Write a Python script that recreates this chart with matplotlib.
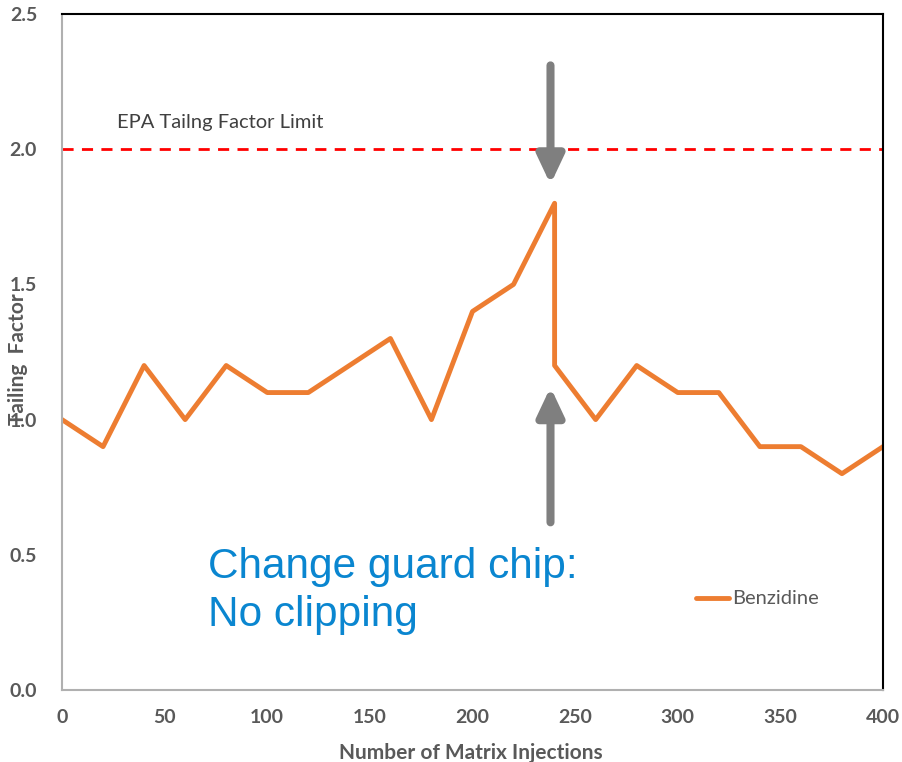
import matplotlib.pyplot as plt

# Datos
injections = [0, 20, 40, 60, 80, 100, 120, 140, 160, 180, 200, 220, 240, 240,
              260, 280, 300, 320, 340, 360, 380, 400]
tailing = [1.0, 0.9, 1.2, 1.0, 1.2, 1.1, 1.1, 1.2, 1.3, 1.0, 1.4, 1.5, 1.8, 1.2,
           1.0, 1.2, 1.1, 1.1, 0.9, 0.9, 0.8, 0.9]
epa_limit = 2.0
x_ticks = [0, 50, 100, 150, 200, 250, 300, 350, 400]
y_ticks = [0.0, 0.5, 1.0, 1.5, 2.0, 2.5]

gray = '#595959'
orange = '#ed7d31'

fig = plt.figure(figsize=(9.02, 7.62), dpi=100)
ax = fig.add_axes([62 / 902, 72 / 762, 821 / 902, 676 / 762])

ax.plot(injections, tailing, color=orange, lw=3.5, solid_joinstyle='round')
ax.axhline(epa_limit, color='#ff0000', lw=2, ls=(0, (4, 3)))

ax.set_xlim(0, 400)
ax.set_ylim(0, 2.5)
ax.set_xticks(x_ticks)
ax.set_yticks(y_ticks)
ax.set_yticklabels([f'{v:.1f}' for v in y_ticks])
ax.tick_params(axis='y', length=0, labelsize=14, labelcolor=gray, pad=18)
ax.tick_params(axis='x', length=0, labelsize=14, labelcolor=gray, pad=14)
for lbl in ax.get_xticklabels() + ax.get_yticklabels():
    lbl.set_fontweight('bold')
    lbl.set_family('Lato')

for s in ['top', 'right']:
    ax.spines[s].set_color('black')
    ax.spines[s].set_linewidth(1.5)
for s in ['left', 'bottom']:
    ax.spines[s].set_color('#b0b0b0')
    ax.spines[s].set_linewidth(1.5)

ax.set_xlabel('Number of Matrix Injections', fontsize=15, color=gray,
              fontweight='bold', family='Lato')
ax.xaxis.set_label_coords(0.498, -0.078)
ax.set_ylabel('Tailing  Factor', fontsize=15, color=gray,
              fontweight='bold', family='Lato')
ax.yaxis.set_label_coords(-0.042, 0.49)

ax.text(27, 2.1, 'EPA Tailng Factor Limit', fontsize=14.5, color='#404040',
        family='Lato', va='center')

# Flechas
arrow_style = dict(arrowstyle='-|>,head_width=0.8,head_length=1.7',
                   color='#7f7f7f', lw=5.8, shrinkA=0, shrinkB=0)
ax.annotate('', xy=(238, 1.87), xytext=(238, 2.31), arrowprops=arrow_style)
ax.annotate('', xy=(238, 1.12), xytext=(238, 0.62), arrowprops=arrow_style)

ax.text(71, 0.365, 'Change guard chip:\nNo clipping', fontsize=30.5,
        color='#0a86d0', family='Liberation Sans', va='center',
        linespacing=1.25)

# Leyenda
ax.plot([309, 325], [0.34, 0.34], color=orange, lw=3.5, solid_capstyle='round')
ax.text(326.5, 0.34, 'Benzidine', fontsize=14.5, color=gray, family='Lato',
        va='center')

plt.savefig('out.png', dpi=100)
